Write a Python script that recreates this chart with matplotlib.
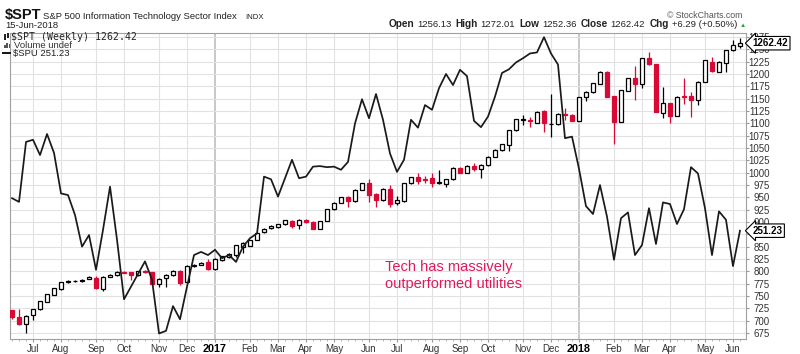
import numpy as np
import pandas as pd
import matplotlib
matplotlib.use("Agg")
import matplotlib.pyplot as plt
from matplotlib.patches import Rectangle
from matplotlib.lines import Line2D
import matplotlib.transforms as mtrans

plt.rcParams['font.family'] = ['Liberation Sans', 'DejaVu Sans']

RED = "#D80A35"
PINK = "#E0195A"
GRID = "#e2e2e2"
TXT = "#333333"

# weekly bars (week starting Monday), last bar = week ending 15-Jun-2018
dates = pd.date_range('2016-06-13', periods=105, freq='W-MON')

opens = [721.6, 706.8, 693.2, 711.5, 723.0, 738.5, 752.0, 764.8, 778.0, 780.0,
         781.0, 785.0, 785.9, 764.8, 789.0, 792.6, 799.0, 798.0, 792.0, 801.0,
         798.0, 774.3, 785.9, 792.6, 801.3, 778.4, 811.0, 812.8, 819.0, 804.0,
         822.0, 829.0, 833.0, 850.0, 852.0, 864.0, 879.0, 888.0, 890.0, 896.0,
         902.7, 893.0, 904.0, 900.0, 886.0, 903.0, 925.7, 939.0, 950.6, 942.6,
         965.0, 978.5, 956.8, 944.6, 966.3, 939.0, 942.6, 979.0, 990.6, 987.0,
         988.6, 980.0, 978.0, 986.6, 1010.0, 1000.0, 1014.0, 1006.8, 1015.5, 1032.0,
         1045.0, 1056.0, 1086.5, 1107.0, 1107.0, 1101.4, 1125.6, 1098.0, 1098.6, 1119.5,
         1117.0, 1105.3, 1152.6, 1163.5, 1180.0, 1205.0, 1155.4, 1103.3, 1166.0, 1191.0,
         1180.0, 1232.0, 1220.0, 1121.6, 1140.6, 1115.5, 1156.0, 1155.0, 1147.3, 1184.4,
         1225.0, 1205.0, 1223.0, 1248.6, 1256.13]
highs = [722.5, 723.0, 711.5, 724.0, 740.0, 754.0, 766.0, 779.0, 782.0, 783.0,
         784.0, 790.0, 790.0, 790.0, 794.0, 800.0, 801.0, 799.0, 801.0, 803.0,
         799.0, 786.0, 794.0, 802.0, 802.0, 812.0, 815.0, 819.0, 824.0, 826.0,
         832.0, 837.0, 854.0, 860.0, 864.0, 879.0, 887.0, 894.0, 896.0, 905.0,
         905.0, 907.0, 907.0, 901.0, 903.0, 926.0, 940.0, 951.0, 953.0, 966.0,
         979.0, 986.6, 958.0, 968.0, 975.0, 952.0, 979.0, 992.0, 999.0, 993.0,
         999.0, 1005.0, 987.0, 1011.0, 1012.0, 1015.0, 1020.0, 1017.0, 1033.0, 1047.0,
         1058.5, 1087.0, 1109.0, 1116.0, 1112.0, 1124.0, 1128.0, 1160.0, 1120.0, 1131.0,
         1118.0, 1153.0, 1165.0, 1182.0, 1206.0, 1206.0, 1156.0, 1168.0, 1192.0, 1216.0,
         1232.5, 1245.0, 1221.0, 1174.0, 1141.0, 1155.0, 1191.0, 1164.0, 1185.0, 1229.0,
         1235.0, 1226.0, 1249.0, 1269.0, 1272.01]
lows = [703.4, 691.0, 674.4, 701.0, 722.0, 737.0, 751.0, 763.0, 776.0, 778.0,
        779.0, 784.0, 765.0, 760.7, 788.0, 791.0, 796.0, 782.0, 790.0, 797.0,
        772.0, 769.0, 769.0, 791.0, 772.0, 777.0, 809.0, 812.0, 803.0, 803.0,
        821.0, 828.0, 829.6, 838.0, 851.0, 863.0, 878.0, 885.0, 888.0, 894.0,
        888.0, 885.0, 897.0, 885.0, 885.0, 902.0, 924.0, 938.0, 929.8, 941.0,
        964.0, 941.0, 929.8, 943.0, 929.8, 934.0, 941.0, 978.0, 977.0, 979.0,
        970.0, 976.0, 971.5, 985.0, 999.0, 999.0, 1003.0, 988.6, 1014.0, 1031.0,
        1044.0, 1044.5, 1085.0, 1096.0, 1093.0, 1100.0, 1083.0, 1072.0, 1097.0, 1107.0,
        1104.0, 1104.0, 1146.0, 1162.0, 1179.0, 1153.0, 1058.0, 1102.0, 1165.0, 1148.0,
        1171.0, 1219.0, 1122.0, 1110.0, 1100.0, 1114.0, 1140.0, 1112.0, 1137.0, 1183.0,
        1205.0, 1204.0, 1205.0, 1247.0, 1252.36]
closes = [706.4, 692.6, 709.5, 723.0, 739.3, 753.4, 765.6, 777.8, 779.5, 781.0,
          782.0, 789.0, 765.6, 789.1, 793.0, 799.3, 797.5, 792.6, 800.0, 799.0,
          773.7, 785.0, 793.0, 801.0, 777.0, 811.4, 813.0, 817.5, 804.0, 825.6,
          831.0, 836.0, 853.4, 857.0, 863.5, 878.0, 885.0, 891.0, 895.0, 904.0,
          892.0, 904.0, 899.5, 886.0, 902.7, 925.7, 939.0, 950.0, 942.6, 964.9,
          978.5, 954.6, 944.6, 967.6, 936.5, 944.6, 978.4, 990.6, 984.0, 986.0,
          978.4, 981.0, 986.6, 1010.0, 1000.0, 1014.0, 1006.8, 1015.5, 1032.4, 1046.0,
          1057.5, 1086.5, 1108.0, 1109.0, 1104.6, 1123.6, 1100.0, 1099.0, 1119.0, 1117.0,
          1105.3, 1152.6, 1164.0, 1181.0, 1205.0, 1154.0, 1103.3, 1167.6, 1191.0, 1179.0,
          1232.0, 1220.0, 1123.0, 1140.6, 1115.5, 1154.0, 1154.0, 1147.3, 1184.4, 1228.4,
          1206.8, 1225.0, 1248.6, 1258.8, 1262.42]

# $SPU (utilities) weekly close, drawn on its own hidden scale
spu = [257.4, 256.7, 268.1, 268.5, 265.6, 269.6, 266.0, 258.3, 258.0, 254.2,
       248.2, 250.4, 243.8, 251.4, 259.6, 249.5, 238.2, 240.6, 243.0, 245.4,
       241.9, 231.7, 232.2, 236.9, 234.4, 240.6, 246.6, 247.2, 246.6, 247.6,
       246.0, 246.6, 245.3, 248.2, 249.8, 250.7, 261.5, 261.0, 257.7, 261.2,
       264.7, 261.2, 261.5, 263.4, 263.5, 263.3, 263.4, 262.8, 264.3, 271.6,
       276.2, 272.6, 277.2, 272.3, 265.9, 262.4, 264.7, 272.3, 270.8, 275.1,
       274.2, 278.3, 281.0, 278.9, 281.8, 280.6, 272.1, 270.9, 272.9, 276.7,
       281.2, 281.9, 283.2, 284.0, 284.9, 285.1, 288.0, 284.9, 282.8, 268.8,
       269.1, 263.0, 255.9, 254.4, 259.9, 253.9, 245.7, 253.6, 254.7, 246.6,
       248.5, 255.5, 248.7, 256.6, 256.3, 252.5, 255.3, 263.3, 262.1, 255.5,
       246.6, 254.9, 253.3, 244.5, 251.23]

price_ticks = list(range(675, 1276, 25))

header_row = [("Open", True), ("1256.13", False), ("High", True), ("1272.01", False),
              ("Low", True), ("1252.36", False), ("Close", True), ("1262.42", False),
              ("Chg", True), ("+6.29 (+0.50%)", False)]


def fpx(x, y):
    return x / 800, 1 - y / 354


fig = plt.figure(figsize=(8, 3.54), dpi=100)
ax = fig.add_axes([10 / 800, 15 / 354, 736 / 800, 306 / 354])

idx = np.arange(len(dates))
o = np.array(opens); c = np.array(closes)
h = np.array(highs); l = np.array(lows)
down = c < o
edge = np.where(down, RED, "black")
face = np.where(down, RED, "white")
body_lo = np.minimum(o, c)
body_h = np.maximum(np.abs(c - o), 0.8)

ax.vlines(idx, l, h, colors=edge, lw=0.9, zorder=2)
ax.bar(idx, body_h, bottom=body_lo, width=0.62, color=face, edgecolor=edge,
       linewidth=0.9, zorder=3)

ax.set_xlim(-0.29, 104.86)
ax.set_ylim(662.8, 1283.1)

# utilities overlay (twinx moves ax ticks to the left, so set them back afterwards)
ax2 = ax.twinx()
ax2.plot(idx, spu, color="#1a1a1a", lw=1.25, zorder=5)
ax2.set_ylim(230.65, 288.79)
ax2.set_yticks([])
for s in ax2.spines.values():
    s.set_visible(False)

# month gridlines
month_idx = [i for i in range(1, len(dates)) if dates[i].month != dates[i - 1].month]
labels = [str(dates[i].year) if dates[i].month == 1 else dates[i].strftime('%b') for i in month_idx]
ax.set_xticks(month_idx)
ax.set_xticklabels(labels)
ax.set_xticks(idx, minor=True)
for i in month_idx:
    if dates[i].month == 1:
        ax.axvline(i, color="#c4c4c4", lw=1.3, zorder=0)
    else:
        ax.axvline(i, color=GRID, lw=0.8, zorder=0)
for v in price_ticks:
    ax.axhline(v, color=GRID, lw=0.8, zorder=0)

ax.tick_params(axis='x', which='major', length=2.5, color="#999999", pad=1,
               labelsize=7, labelcolor=TXT)
ax.tick_params(axis='x', which='minor', length=1.3, color="#aaaaaa")
for lab in ax.get_xticklabels():
    if lab.get_text().isdigit():
        lab.set_fontweight('bold')
        lab.set_fontsize(7.8)
        lab.set_color('black')

ax.set_yticks(price_ticks)
ax.tick_params(axis='y', which='major', left=False, labelleft=False, right=True,
               labelright=True, length=2.5, color="#999999", pad=14.8,
               labelsize=7, labelcolor=TXT)
for t in ax.yaxis.get_major_ticks():
    t.label2.set_horizontalalignment('right')
for s in ax.spines.values():
    s.set_color("#a0a0a0")
    s.set_linewidth(0.8)

# value tags on the right
tr1 = mtrans.blended_transform_factory(ax.transAxes, ax.transData)
ax.text(1.009, closes[-1], "%.2f" % closes[-1], transform=tr1, fontsize=7,
        fontweight='bold', va='center', ha='left', clip_on=False, zorder=10,
        bbox=dict(boxstyle='larrow,pad=0.18', fc='white', ec='black', lw=0.8))
tr2 = mtrans.blended_transform_factory(ax2.transAxes, ax2.transData)
ax2.text(1.009, spu[-1], "%.2f" % spu[-1], transform=tr2, fontsize=7,
         fontweight='bold', va='center', ha='left', clip_on=False, zorder=10,
         bbox=dict(boxstyle='larrow,pad=0.18', fc='white', ec='black', lw=0.8))

# annotation
ax.text(0.5095, (339 - 270.7) / 306, "Tech has massively", transform=ax.transAxes,
        color=PINK, fontsize=10.5, va='baseline', ha='left')
ax.text(0.5095, (339 - 288.2) / 306, "outperformed utilities", transform=ax.transAxes,
        color=PINK, fontsize=10.5, va='baseline', ha='left')

# header
fig.text(*fpx(5, 19.5), "$SPT", fontsize=10.5, fontweight='bold', color='#111111', va='baseline')
fig.text(*fpx(43, 19), "S&P 500 Information Technology Sector Index", fontsize=6.8,
         color='#222222', va='baseline')
fig.text(*fpx(245, 19), "INDX", fontsize=5.6, color='#222222', va='baseline')
fig.text(*fpx(5, 28.5), "15-Jun-2018", fontsize=6.8, color='#222222', va='baseline')
fig.text(*fpx(667, 18), "\u00a9 StockCharts.com", fontsize=6.3, color='#555555', va='baseline')

# OHLC row laid out from right to left so it ends just before the triangle
renderer = fig.canvas.get_renderer()
xr = 737.0
for k, (s, b) in enumerate(reversed(header_row)):
    t = fig.text(*fpx(xr, 27.2), s, fontsize=7.2 if b else 6.8, ha='right',
                 fontweight='bold' if b else 'normal', color='#222222', va='baseline')
    w = t.get_window_extent(renderer).width
    xr -= w + (3.0 if not b else 4.0)
fig.text(*fpx(740, 27), "\u25b2", fontsize=4.5, color='#2e9b3e', va='baseline')

# legend inside the plot
fig.text(*fpx(11, 39.5), "$SPT (Weekly) 1262.42", family='DejaVu Sans Mono',
         fontsize=7.1, color='#222222', va='baseline')
fig.text(*fpx(14, 47.8), "Volume undef", fontsize=6.8, color='#333333', va='baseline')
fig.text(*fpx(13, 56), "$SPU 251.23", fontsize=6.8, color='#222222', va='baseline')

# legend icons
for x0, y0, hh in [(3.5, 34, 6), (6.8, 33, 5)]:
    fig.add_artist(Rectangle(fpx(x0, y0 + hh), 2.2 / 800, hh / 354, transform=fig.transFigure,
                             fc='#222222', ec='none'))
for x0, hh in [(4, 3), (6.3, 5), (8.6, 4)]:
    fig.add_artist(Rectangle(fpx(x0, 48), 1.6 / 800, hh / 354, transform=fig.transFigure,
                             fc='#555555', ec='none'))
fig.add_artist(Line2D([3 / 800, 10 / 800], [1 - 53 / 354, 1 - 53 / 354],
                      transform=fig.transFigure, color='#111111', lw=1.4))

fig.savefig("out.png", dpi=100)
